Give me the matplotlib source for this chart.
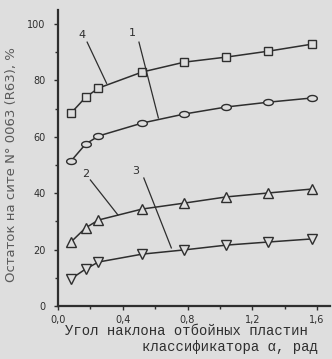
import numpy as np
import matplotlib.pyplot as plt
from matplotlib.path import Path

# angle of deflector plates, rad
alpha = [0.08, 0.17, 0.25, 0.52, 0.78, 1.04, 1.30, 1.57]

# residue on sieve No 0063, %
curve1 = [51.4, 57.4, 60.3, 64.9, 68.1, 70.6, 72.3, 73.8]
curve2 = [22.7, 27.7, 30.5, 34.4, 36.5, 38.7, 40.1, 41.5]
curve3 = [9.6, 13.1, 15.6, 18.4, 19.9, 21.6, 22.7, 23.8]
curve4 = [68.4, 74.0, 77.3, 83.0, 86.5, 88.3, 90.4, 92.9]

xticks = [0.0, 0.4, 0.8, 1.2, 1.6]
xticklabels = ["0,0", "0,4", "0,8", "1,2", "1,6"]
yticks = [0, 20, 40, 60, 80, 100]

bg = "#dedede"
ink = "#2e2e2e"

# flattened circle marker like on the scan
t = np.linspace(0, 2 * np.pi, 40)
ellipse = Path(np.column_stack([np.cos(t), 0.62 * np.sin(t)]))

fig = plt.figure(figsize=(3.32, 3.59), dpi=100, facecolor=bg)
ax = fig.add_axes([58 / 332, 53 / 359, 272 / 332, 296 / 359])
ax.set_facecolor(bg)

ms = dict(color=ink, lw=1.1, markerfacecolor=bg, markeredgecolor=ink, markeredgewidth=1.0)
ax.plot(alpha, curve4, marker="s", ms=5.5, **ms)
ax.plot(alpha, curve1, marker=ellipse, ms=7, **ms)
ax.plot(alpha, curve2, marker="^", ms=6.5, **ms)
ax.plot(alpha, curve3, marker="v", ms=6.5, **ms)

# leader lines with curve numbers: label x, y, line start, line end
labels = [("4", 0.15, 96.0, 0.18, 93.6, 0.30, 79.0),
          ("1", 0.46, 97.0, 0.50, 93.6, 0.62, 66.7),
          ("2", 0.17, 47.0, 0.20, 44.7, 0.37, 32.3),
          ("3", 0.48, 48.0, 0.53, 45.4, 0.70, 20.6)]
for txt, tx, ty, x0, y0, x1, y1 in labels:
    ax.plot([x0, x1], [y0, y1], color=ink, lw=0.9)
    ax.text(tx, ty, txt, ha="center", va="center", fontsize=8, color=ink)

ax.set_xlim(0, 1.68)
ax.set_ylim(0, 105)
ax.set_xticks(xticks)
ax.set_xticklabels(xticklabels)
ax.set_yticks(yticks)
ax.set_xticks(np.arange(0, 1.7, 0.2), minor=True)
ax.set_yticks(np.arange(0, 105, 10), minor=True)
ax.tick_params(axis="both", labelsize=7, colors=ink, direction="out", length=3, width=1)
ax.tick_params(axis="y", pad=6)
ax.tick_params(which="minor", length=2, width=1, colors=ink)

for s in ["top", "right"]:
    ax.spines[s].set_visible(False)
for s in ["left", "bottom"]:
    ax.spines[s].set_color(ink)
    ax.spines[s].set_linewidth(1.6)

fig.text(12 / 332, 1 - 165 / 359, "Остаток на сите N° 0063 (R63), %", rotation=90,
         ha="center", va="center", fontsize=9.5, color="#5a5a5a")
fig.text(186 / 332, 1 - 331 / 359, "Угол наклона отбойных пластин",
         ha="center", va="center", fontsize=10, family="Liberation Mono", color=ink)
fig.text(230 / 332, 1 - 347 / 359, "классификатора α, рад",
         ha="center", va="center", fontsize=10, family="Liberation Mono", color=ink)

fig.savefig("out.png", dpi=100, facecolor=bg)
